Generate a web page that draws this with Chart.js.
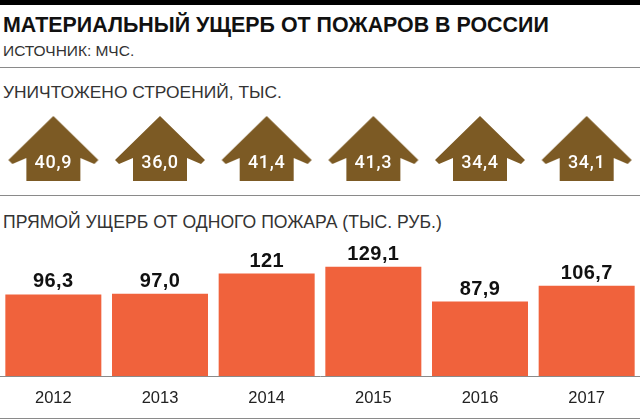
<!DOCTYPE html>
<html lang="ru">
<head>
  <meta charset="UTF-8">
  <title>Материальный ущерб от пожаров в России</title>
  <script src="https://cdn.jsdelivr.net/npm/chart.js"></script>
  <style>
    html, body { margin: 0; padding: 0; background: #fff; }
    body { position: relative; width: 640px; height: 420px; overflow: hidden; font-family: "Liberation Sans", sans-serif; }
    .abs { position: absolute; left: 0; white-space: nowrap; }
    .rule { position: absolute; left: 0; width: 640px; background: #8a8a8a; height: 1px; }
    canvas { position: absolute; left: 0; display: block; }
    #title { left: 3px; top: 12px; font-size: 21.4px; line-height: 26px; font-weight: bold; color: #111; }
    #source { left: 3px; top: 42px; font-size: 15.5px; line-height: 18px; color: #333; }
    #head1 { left: 3px; top: 82px; font-size: 17.4px; line-height: 20px; color: #333; }
    #head2 { left: 3px; top: 212px; font-size: 17.6px; line-height: 20px; color: #333; }
  </style>
</head>
<body>
  <div class="rule" style="top:0;height:5px;background:#000"></div>
  <div class="abs" id="title">МАТЕРИАЛЬНЫЙ УЩЕРБ ОТ ПОЖАРОВ В РОССИИ</div>
  <div class="abs" id="source">ИСТОЧНИК: МЧС.</div>
  <div class="rule" style="top:67px"></div>
  <div class="abs" id="head1">УНИЧТОЖЕНО СТРОЕНИЙ, ТЫС.</div>
  <canvas id="houses" width="640" height="80" style="top:109px"></canvas>
  <div class="rule" style="top:195px"></div>
  <div class="abs" id="head2">ПРЯМОЙ УЩЕРБ ОТ ОДНОГО ПОЖАРА (ТЫС. РУБ.)</div>
  <canvas id="damage" width="640" height="178" style="top:240px"></canvas>
  <div class="rule" style="top:418px"></div>

  <script>
    const years = ['2012', '2013', '2014', '2015', '2016', '2017'];
    const buildings = [40.9, 36.0, 41.4, 41.3, 34.4, 34.1];
    const buildingLabels = ['40,9', '36,0', '41,4', '41,3', '34,4', '34,1'];
    const damage = [96.3, 97.0, 121, 129.1, 87.9, 106.7];
    const damageLabels = ['96,3', '97,0', '121', '129,1', '87,9', '106,7'];

    const BROWN = '#7c5a24';
    const ORANGE = '#f0623c';

    // house icon used as the point style
    function makeHouse() {
      const c = document.createElement('canvas');
      c.width = 92;
      c.height = 68;
      const g = c.getContext('2d');
      g.fillStyle = BROWN;
      g.beginPath();
      g.moveTo(46, 1);
      g.lineTo(91, 45);
      g.lineTo(87, 49);
      g.lineTo(73, 43);
      g.lineTo(73, 66);
      g.lineTo(19, 66);
      g.lineTo(19, 43);
      g.lineTo(5, 49);
      g.lineTo(1, 45);
      g.closePath();
      g.fill();
      return c;
    }

    // values written over the marks
    function labelPlugin(texts, font, color, spacing, dy) {
      return {
        id: 'labels',
        afterDatasetsDraw(chart) {
          const ctx = chart.ctx;
          ctx.save();
          ctx.font = font;
          ctx.fillStyle = color;
          ctx.letterSpacing = spacing;
          ctx.textAlign = 'center';
          ctx.textBaseline = 'alphabetic';
          chart.getDatasetMeta(0).data.forEach((el, i) => {
            ctx.fillText(texts[i], el.x, el.y + dy);
          });
          ctx.restore();
        }
      };
    }

    new Chart(document.getElementById('houses'), {
      type: 'line',
      data: {
        labels: years,
        datasets: [{
          data: buildings.map(() => 0),
          showLine: false,
          clip: false,
          pointStyle: makeHouse(),
          pointRadius: 30
        }]
      },
      options: {
        responsive: false,
        animation: false,
        layout: { padding: 0, autoPadding: false },
        plugins: { legend: { display: false }, tooltip: { enabled: false } },
        scales: {
          x: { display: false, offset: true },
          y: { display: false, min: -1, max: 1 }
        }
      },
      plugins: [labelPlugin(buildingLabels, '500 18px Roboto', '#fff', '0.7px', 19)]
    });

    new Chart(document.getElementById('damage'), {
      type: 'bar',
      data: {
        labels: years,
        datasets: [{
          data: damage,
          backgroundColor: ORANGE,
          barPercentage: 0.9,
          categoryPercentage: 1
        }]
      },
      options: {
        responsive: false,
        animation: false,
        layout: { padding: { top: 9 } },
        plugins: { legend: { display: false }, tooltip: { enabled: false } },
        scales: {
          x: {
            afterFit(scale) { scale.height = 42; },
            grid: { display: false },
            border: { color: '#8a8a8a' },
            ticks: { color: '#222', font: { family: '"Liberation Sans"', size: 16.5 }, padding: 5, maxRotation: 0 }
          },
          y: { display: false, min: 0, max: 150 }
        }
      },
      plugins: [labelPlugin(damageLabels, 'bold 20px "Liberation Sans"', '#111', '0.4px', -7)]
    });
  </script>
</body>
</html>
